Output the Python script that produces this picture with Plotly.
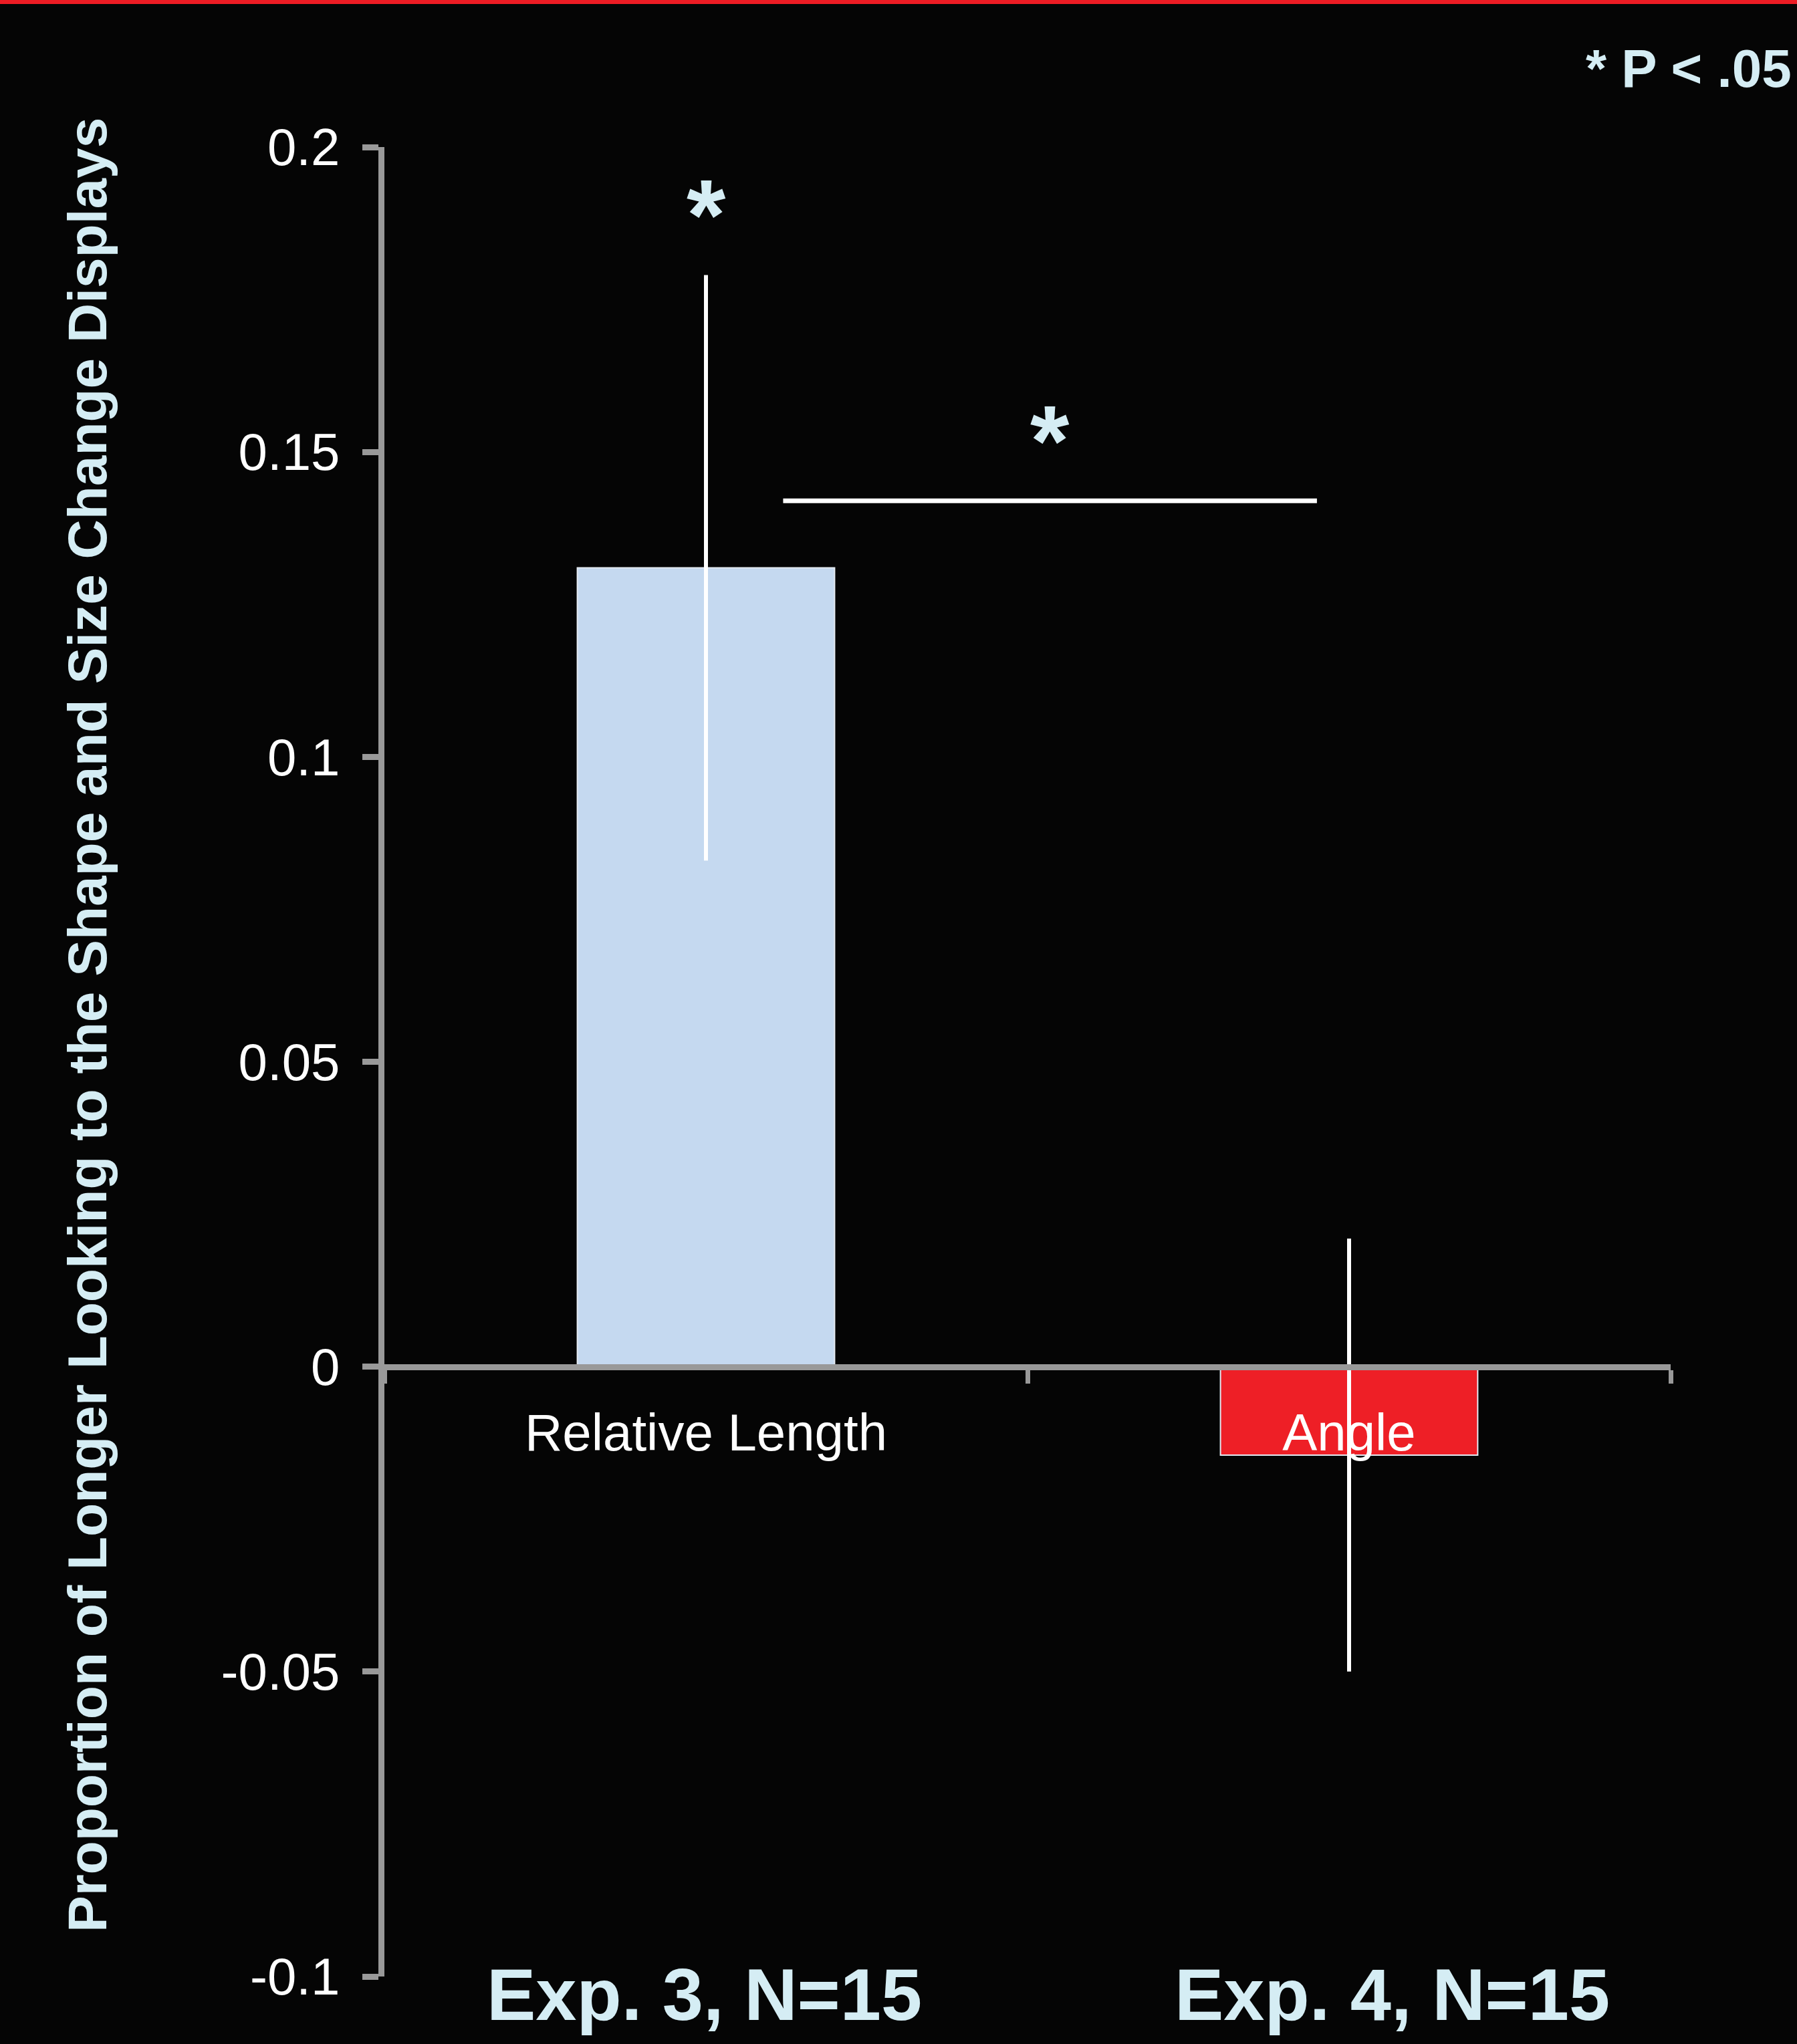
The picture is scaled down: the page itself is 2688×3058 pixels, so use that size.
import plotly.graph_objects as go

# ---- data ----
categories = ["Relative Length", "Angle"]
values = [0.131, -0.0145]
errors = [0.048, 0.0355]
bar_colors = ["#C5D9F0", "#EE1F26"]
y_tick_vals = [-0.1, -0.05, 0, 0.05, 0.1, 0.15, 0.2]
y_tick_text = ["-0.1", "-0.05", "0", "0.05", "0.1", "0.15", "0.2"]
experiment_labels = ["Exp. 3, N=15", "Exp. 4, N=15"]
bracket_x = [0.12, 0.95]
bracket_y = 0.142
y_title = "Proportion of Longer Looking to the Shape and Size Change Displays"
sig_note = "* P < .05"

# ---- layout geometry (pixels) ----
W, H = 2688, 3058
L, R, T, B = 575, 189, 220, 101
y_range = [-0.1, 0.2]


def px(x):
    return (x - L) / (W - L - R)


def py(y):
    return (H - B - y) / (H - T - B)


FONT = "Liberation Sans, Arial, sans-serif"
LIGHT = "#D5EDF4"
AXIS = "#999999"
BG = "#050505"

fig = go.Figure()
fig.add_trace(go.Bar(
    x=categories, y=values, width=0.4,
    marker=dict(color=bar_colors, line=dict(color="#E4EAF2", width=2)),
    error_y=dict(type="data", array=errors, color="white", thickness=6, width=0),
    showlegend=False,
))

zero_pos = (0 - y_range[0]) / (y_range[1] - y_range[0])

fig.update_layout(
    width=W, height=H,
    margin=dict(l=L, r=R, t=T, b=B),
    paper_bgcolor=BG, plot_bgcolor=BG,
    font=dict(family=FONT, color="white", size=78),
    xaxis=dict(
        type="category", range=[-0.5, 1.5],
        anchor="free", position=zero_pos,
        showline=True, linecolor=AXIS, linewidth=9,
        ticks="outside", tickson="boundaries", ticklen=20, tickwidth=7, tickcolor=AXIS,
        tickfont=dict(size=78, color="white", family=FONT),
        ticklabelstandoff=27,
        showgrid=False, zeroline=False,
        layer="above traces",
    ),
    yaxis=dict(
        range=y_range, tickvals=y_tick_vals, ticktext=y_tick_text,
        showline=True, linecolor=AXIS, linewidth=9,
        ticks="outside", ticklen=24, tickwidth=9, tickcolor=AXIS,
        tickfont=dict(size=78, color="white", family=FONT),
        ticklabelstandoff=18,
        showgrid=False, zeroline=False,
    ),
)

# top red strip
fig.add_shape(type="rect", xref="paper", yref="paper",
              x0=px(0), x1=px(W), y0=py(6), y1=py(0),
              fillcolor="#ED1C24", line=dict(width=0), layer="below")

# significance bracket
fig.add_shape(type="line", xref="x", yref="y",
              x0=bracket_x[0], x1=bracket_x[1], y0=bracket_y, y1=bracket_y,
              line=dict(color="white", width=7))

annots = []
# asterisks
annots.append(dict(text="*", x=0, xref="x", y=py(322), yref="paper",
                   showarrow=False, xanchor="center", yanchor="middle",
                   font=dict(size=150, color=LIGHT, family=FONT, weight="bold")))
annots.append(dict(text="*", x=(bracket_x[0] + bracket_x[1]) / 2, xref="x", y=py(660), yref="paper",
                   showarrow=False, xanchor="center", yanchor="middle",
                   font=dict(size=150, color=LIGHT, family=FONT, weight="bold")))
# significance note
annots.append(dict(text=sig_note, x=px(2682), xref="paper", y=py(103), yref="paper",
                   showarrow=False, xanchor="right", yanchor="middle",
                   font=dict(size=80, color=LIGHT, family=FONT, weight="bold")))
# experiment labels
for lab, cx in zip(experiment_labels, [1053, 2082]):
    annots.append(dict(text=lab, x=px(cx), xref="paper", y=py(2983), yref="paper",
                       showarrow=False, xanchor="center", yanchor="middle",
                       font=dict(size=110, color=LIGHT, family=FONT, weight="bold")))
# y title
annots.append(dict(text=y_title, x=px(130), xref="paper", y=py(1534), yref="paper",
                   showarrow=False, xanchor="center", yanchor="middle", textangle=-90,
                   font=dict(size=82, color=LIGHT, family=FONT, weight="bold")))

fig.update_layout(annotations=annots)
fig.write_html("out.html", config={"displayModeBar": False},
               post_script="document.body.style.margin='0';document.body.style.overflow='hidden';")
